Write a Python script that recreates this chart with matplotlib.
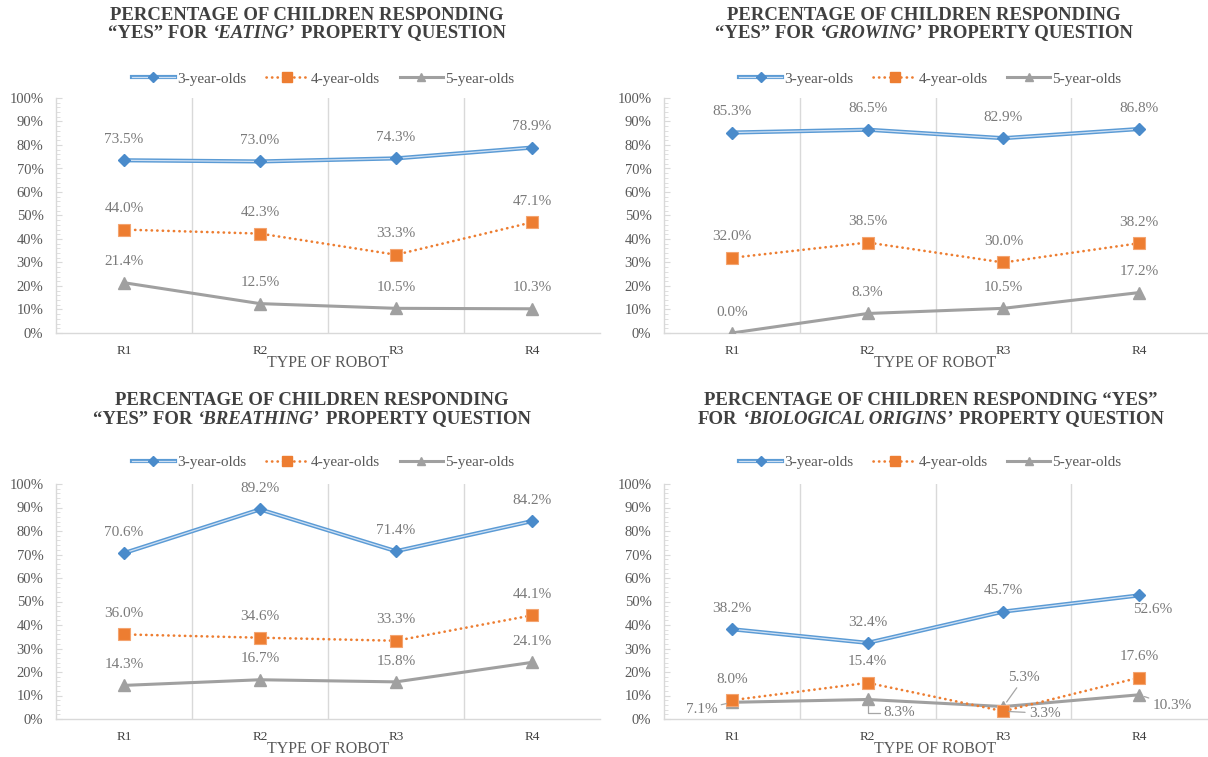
import matplotlib
matplotlib.use("Agg")
import matplotlib.pyplot as plt
from matplotlib.lines import Line2D

FONT = "Liberation Serif"
plt.rcParams['font.family'] = [FONT, 'DejaVu Serif']

# ---------------- data ----------------
categories = ["R1", "R2", "R3", "R4"]
series_names = ["3-year-olds", "4-year-olds", "5-year-olds"]

eating_3 = [73.5, 73.0, 74.3, 78.9]
eating_4 = [44.0, 42.3, 33.3, 47.1]
eating_5 = [21.4, 12.5, 10.5, 10.3]

growing_3 = [85.3, 86.5, 82.9, 86.8]
growing_4 = [32.0, 38.5, 30.0, 38.2]
growing_5 = [0.0, 8.3, 10.5, 17.2]

breathing_3 = [70.6, 89.2, 71.4, 84.2]
breathing_4 = [36.0, 34.6, 33.3, 44.1]
breathing_5 = [14.3, 16.7, 15.8, 24.1]

bio_3 = [38.2, 32.4, 45.7, 52.6]
bio_4 = [8.0, 15.4, 3.3, 17.6]
bio_5 = [7.1, 8.3, 5.3, 10.3]

y_ticks = [0, 10, 20, 30, 40, 50, 60, 70, 80, 90, 100]
x_title = "TYPE OF ROBOT"

titles = [
    [[("PERCENTAGE OF CHILDREN RESPONDING", False)],
     [("“YES” FOR", False), ("‘EATING’", True), ("PROPERTY QUESTION", False)]],
    [[("PERCENTAGE OF CHILDREN RESPONDING", False)],
     [("“YES” FOR", False), ("‘GROWING’", True), ("PROPERTY QUESTION", False)]],
    [[("PERCENTAGE OF CHILDREN RESPONDING", False)],
     [("“YES” FOR", False), ("‘BREATHING’", True), ("PROPERTY QUESTION", False)]],
    [[("PERCENTAGE OF CHILDREN RESPONDING “YES”", False)],
     [("FOR", False), ("‘BIOLOGICAL ORIGINS’", True), ("PROPERTY QUESTION", False)]],
]

# ---------------- style ----------------
W, H = 1208, 757
BLUE = "#5B9BD5"
BLUE_IN = "#CFE0F3"
ORANGE = "#ED7D31"
GRAY = "#A0A0A0"
GRID = "#D9D9D9"
TXT = "#595959"
LBL = "#7A7A7A"
TITLE_C = "#404040"

fig = plt.figure(figsize=(W / 100, H / 100), dpi=100)
fig.patch.set_facecolor("white")

# axes rectangles in pixels: left, right, y0 (0%), y100 (100%)
panels_px = [
    (56, 600, 333, 98),
    (664, 1207, 333, 98),
    (56, 600, 719, 484),
    (664, 1207, 719, 484),
]
title_px = [(307, 16, 33), (924, 16, 33), (312, 400, 419), (931, 400, 419)]
legend_y = [79, 79, 462, 462]

data = [
    (eating_3, eating_4, eating_5),
    (growing_3, growing_4, growing_5),
    (breathing_3, breathing_4, breathing_5),
    (bio_3, bio_4, bio_5),
]

# custom label placement for the biological-origins panel:
# (series index, category index) -> (dx pt, dy pt, leader, connection style)
custom = {
    3: {
        (0, 3): (10, -10, False, None),
        (2, 0): (-22, -5, True, None),
        (2, 1): (23, -9.5, True, "angle,angleA=0,angleB=90,rad=0"),
        (2, 2): (15, 21, True, None),
        (1, 2): (30, -1.5, True, None),
        (2, 3): (24, -8, True, None),
    }
}


def rich_line(xc, yc, segments, size=13.5):
    texts = []
    for s, it in segments:
        t = fig.text(0, 0, s, fontsize=size, fontweight="bold",
                     fontstyle="italic" if it else "normal",
                     family=FONT, color=TITLE_C, va="center", ha="left")
        texts.append(t)
    r = fig.canvas.get_renderer()
    widths = [t.get_window_extent(r).width for t in texts]
    gap = size * 0.30 * 100 / 72
    total = sum(widths) + gap * (len(texts) - 1)
    x = xc - total / 2
    for t, w in zip(texts, widths):
        t.set_position((x / W, 1 - yc / H))
        x += w + gap


x = list(range(len(categories)))
for i, (px, ser) in enumerate(zip(panels_px, data)):
    l, r, y0, y1 = px
    ax = fig.add_axes([l / W, 1 - y0 / H, (r - l) / W, (y0 - y1) / H])
    ax.set_xlim(-0.5, len(categories) - 0.5)
    ax.set_ylim(0, 100)
    for gx in [0.5, 1.5, 2.5]:
        ax.axvline(gx, color=GRID, lw=1.0, zorder=0)
    for s in ["top", "right"]:
        ax.spines[s].set_visible(False)
    for s in ["left", "bottom"]:
        ax.spines[s].set_color(GRID)
        ax.spines[s].set_linewidth(1.0)
    ax.set_yticks(y_ticks)
    ax.set_yticklabels([f"{v}%" for v in y_ticks])
    ax.set_yticks(range(0, 101, 2), minor=True)
    ax.tick_params(axis="y", which="major", direction="in", length=4, color=GRID,
                   labelsize=10.5, labelcolor=TXT, pad=9)
    ax.tick_params(axis="y", which="minor", direction="in", length=3, color=GRID)
    ax.set_xticks(x)
    ax.set_xticklabels(categories)
    ax.tick_params(axis="x", length=0, labelsize=9.5, labelcolor="#404040", pad=9)
    ax.set_xlabel(x_title, fontsize=11.5, color=TXT)
    ax.xaxis.set_label_coords(0.5, -30 / (y0 - y1))
    ax.xaxis.label.set_va("center")

    s3, s4, s5 = ser
    ax.plot(x, s3, color=BLUE, lw=3.0, zorder=3, solid_joinstyle="round")
    ax.plot(x, s3, color=BLUE_IN, lw=0.9, zorder=3.1)
    ax.plot(x, s3, ls="none", marker="D", ms=6.5, color="#4A8BCB", zorder=3.2)
    ax.plot(x, s4, color=ORANGE, lw=1.9, ls=(0, (0.1, 2.0)),
            dash_capstyle="round", marker="s", ms=8.5, mfc=ORANGE, mec="#F4A470",
            mew=0.8, zorder=4)
    ax.plot(x, s5, color=GRAY, lw=2.2, marker="^", ms=9, mfc=GRAY, mec=GRAY,
            zorder=3.5)

    # data labels
    for si, vals in enumerate(ser):
        for ci, v in enumerate(vals):
            dx, dy, leader, cs = 0, 15, False, None
            if i in custom and (si, ci) in custom[i]:
                dx, dy, leader, cs = custom[i][(si, ci)]
            ap = None
            if leader:
                ap = dict(arrowstyle="-", color="#A6A6A6", lw=0.9, shrinkA=1, shrinkB=4)
                if cs:
                    ap["connectionstyle"] = cs
            ax.annotate(f"{v:.1f}%", (x[ci], v), xytext=(dx, dy),
                        textcoords="offset points", ha="center", va="center",
                        fontsize=11, color=LBL, zorder=6, arrowprops=ap,
                        annotation_clip=False)

    # legend
    h3 = (Line2D([], [], color=BLUE, lw=3.0), Line2D([], [], color=BLUE_IN, lw=0.9),
          Line2D([], [], ls="none", marker="D", ms=5, color="#4A8BCB"))
    h4 = Line2D([], [], color=ORANGE, lw=1.9, ls=(0, (0.1, 2.0)), dash_capstyle="round",
                marker="s", ms=7, mfc=ORANGE, mec=ORANGE)
    h5 = Line2D([], [], color=GRAY, lw=2.2, marker="^", ms=6, mfc=GRAY, mec=GRAY)
    cx = (l + r) / 2 - 5
    fig.legend([h3, h4, h5], series_names, loc="center", ncol=3, frameon=False,
               bbox_to_anchor=(cx / W, 1 - legend_y[i] / H), fontsize=11,
               labelcolor=TXT, handlelength=2.8, handletextpad=0.15,
               columnspacing=1.3, borderpad=0)

    tx, ty1, ty2 = title_px[i]
    rich_line(tx, ty1, titles[i][0])
    rich_line(tx, ty2, titles[i][1])

fig.savefig("out.png", dpi=100, facecolor="white")
